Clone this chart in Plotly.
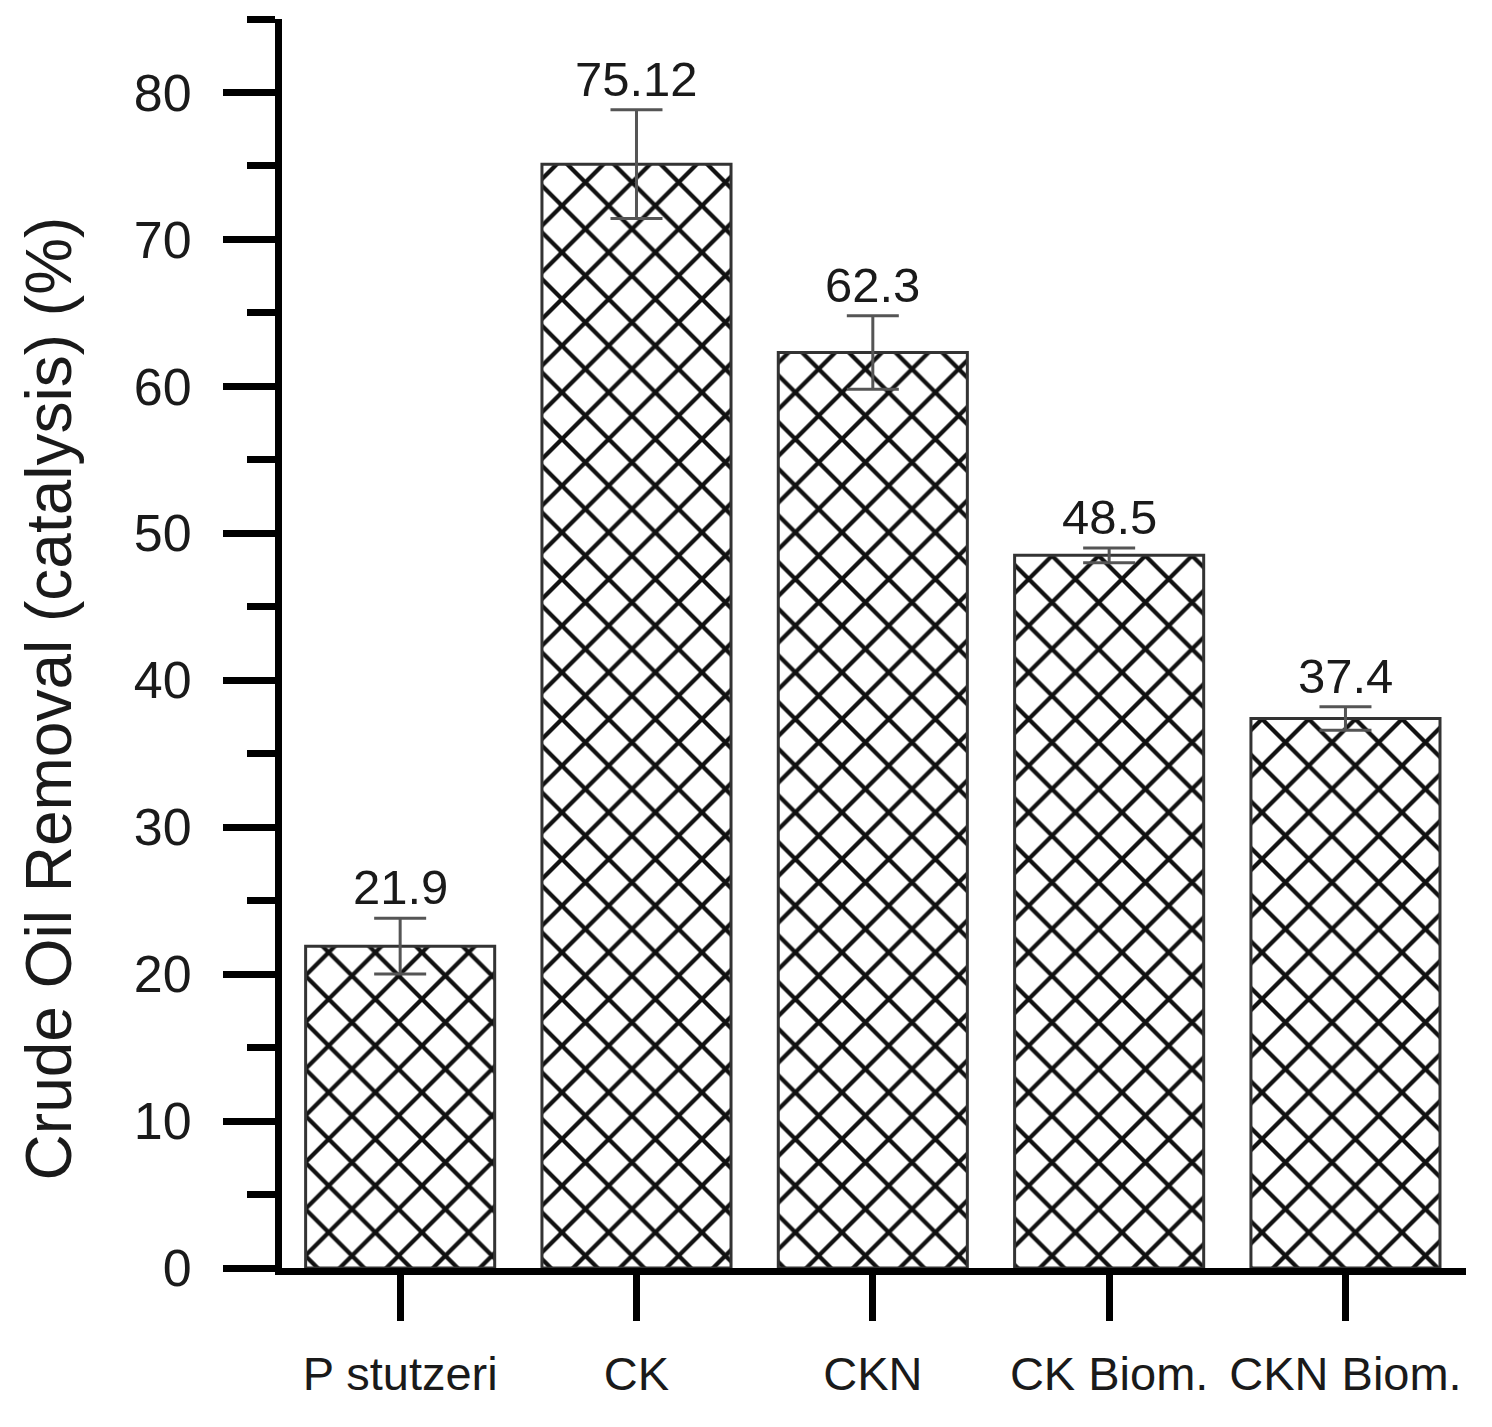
import plotly.graph_objects as go

categories = ["P stutzeri", "CK", "CKN", "CK Biom.", "CKN Biom."]
removal = [21.9, 75.12, 62.3, 48.5, 37.4]
errors = [1.9, 3.7, 2.5, 0.5, 0.8]
labels = ["21.9", "75.12", "62.3", "48.5", "37.4"]

FONT = "Liberation Sans, Arial, sans-serif"
x_pos = list(range(len(categories)))

fig = go.Figure()
fig.add_trace(go.Bar(
    x=x_pos,
    y=removal,
    width=0.8,
    marker=dict(
        color="white",
        line=dict(color="#333", width=3),
        pattern=dict(shape="x", fgcolor="#111", fgopacity=1, bgcolor="white",
                     size=33, solidity=0.24),
    ),
    error_y=dict(type="data", array=errors, visible=True, color="#555", thickness=3, width=26),
    showlegend=False,
))

for x, v, e, t in zip(x_pos, removal, errors, labels):
    fig.add_annotation(
        x=x, y=v + e, text=t, showarrow=False, yanchor="bottom", yshift=2,
        font=dict(family=FONT, size=49, color="#1a1a1a"),
    )

fig.add_annotation(
    xref="paper", yref="paper", x=-0.196, y=0.456, xanchor="center", yanchor="middle",
    text="Crude Oil Removal (catalysis) (%)",
    textangle=-90, showarrow=False, font=dict(family=FONT, size=64, color="#1a1a1a"),
)

fig.update_xaxes(
    range=[-0.5, 4.51],
    tickvals=x_pos,
    ticktext=categories,
    showline=True, linewidth=7, linecolor="black",
    ticks="outside", ticklen=46, tickwidth=7, tickcolor="black",
    ticklabelstandoff=13,
    tickfont=dict(family=FONT, size=47, color="#1a1a1a"),
    showgrid=False, zeroline=False,
)
fig.update_yaxes(
    range=[0, 85],
    dtick=10,
    showline=True, linewidth=7, linecolor="black",
    ticks="outside", ticklen=52, tickwidth=7, tickcolor="black",
    ticklabelstandoff=21,
    minor=dict(dtick=5, ticks="outside", ticklen=28, tickwidth=7, tickcolor="black"),
    tickfont=dict(family=FONT, size=52, color="#1a1a1a"),
    showgrid=False, zeroline=False,
)
fig.update_layout(
    width=1492, height=1427,
    margin=dict(l=274, r=34, t=11, b=167),
    plot_bgcolor="white", paper_bgcolor="white",
)

fig.write_html("out.html")
